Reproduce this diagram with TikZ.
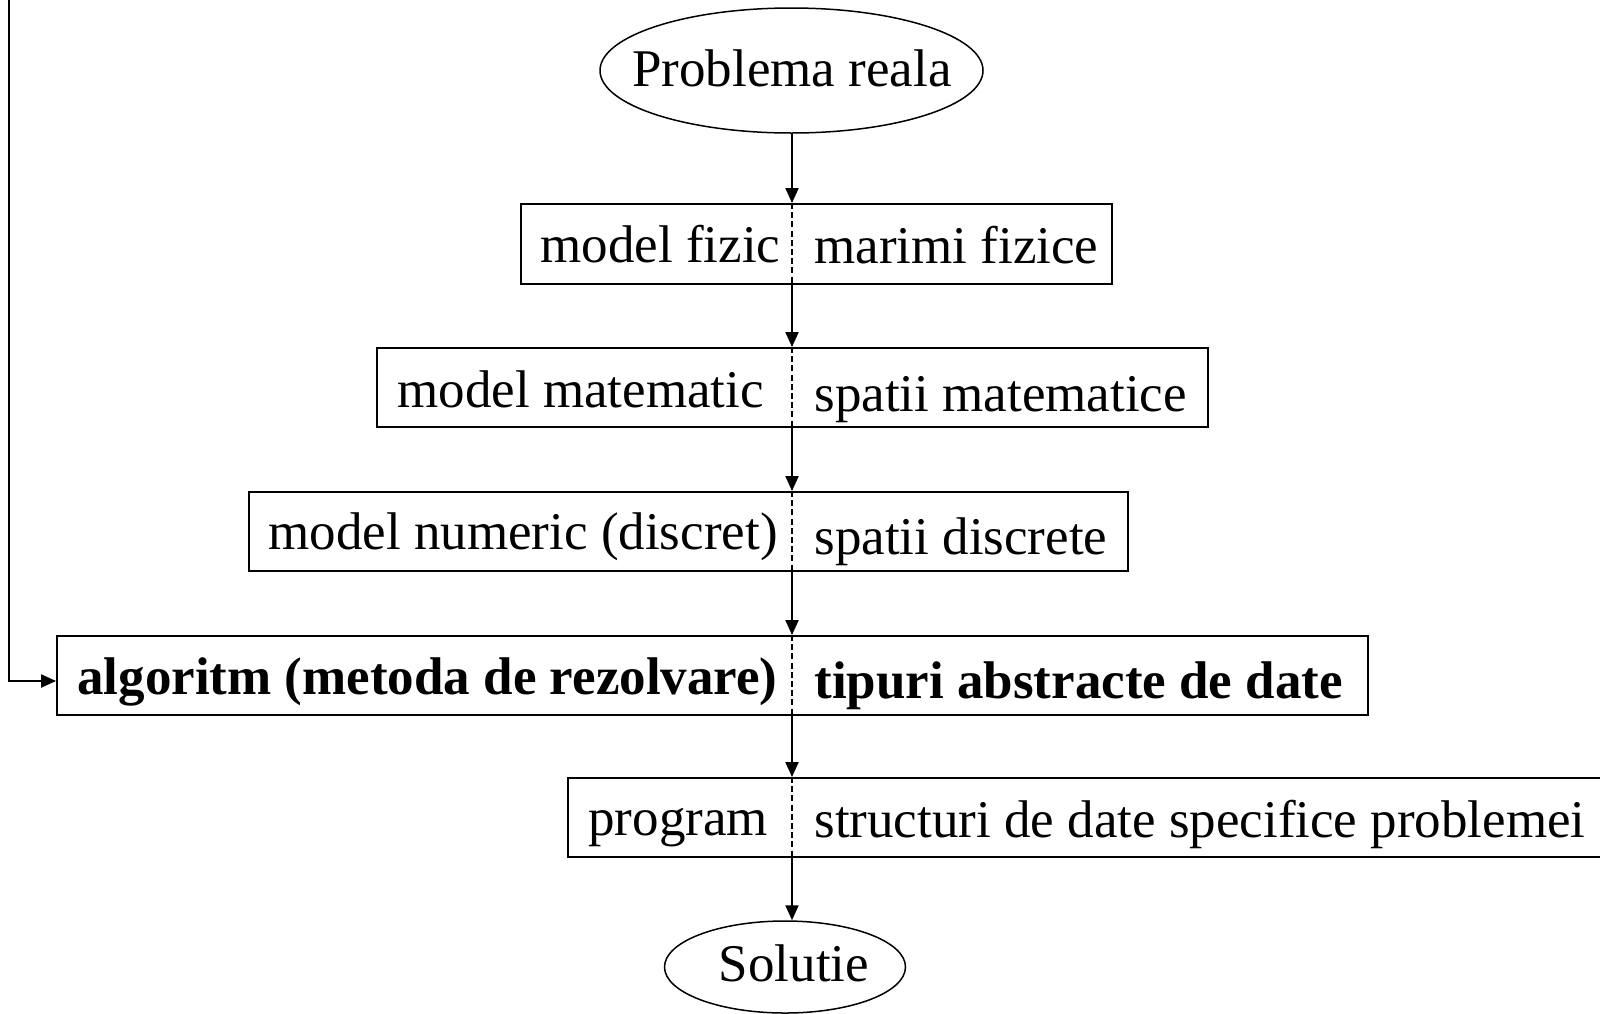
\documentclass[tikz,border=0pt]{standalone}
\usepackage{fontspec}
\setmainfont{Liberation Serif}
\usetikzlibrary{arrows.meta,fit,shapes.geometric}

\begin{document}
\begin{tikzpicture}[x=0.5pt, y=-0.5pt,
		every node/.style={font=\fontsize{26.5}{32}\selectfont},
		txt/.style={anchor=base west, inner sep=0pt},
		rowbox/.style={draw, line width=0.95pt, inner sep=0pt},
		term/.style={draw, ellipse, line width=0.75pt, inner sep=0pt},
		flow/.style={line width=1pt, -{Triangle[length=7.5pt,width=6.5pt]}},
		split/.style={line width=0.8pt, dash pattern=on 3pt off 1.6pt}]
		\useasboundingbox (0,0) rectangle (1600,1013);
		\coordinate (mid) at (792,0);
		
		% Start and end
		\node[term, minimum width=191.5pt, minimum height=62.5pt] (real) at (791.5,70.5) {};
		\node[txt, anchor=base] (realtxt) at (792,86) {Problema reala};
		\node[term, minimum width=120.5pt, minimum height=46pt] (sol) at (785,967) {};
		\node[txt, anchor=base] (soltxt) at (794,981) {Solutie};
		
		% Levels: model | data
		\node[rowbox, fit={(521,204) (1112,284)}] (fiz) {};
		\node[txt] (fizL) at (540,262) {model fizic};
		\node[txt] (fizR) at (814,263) {marimi fizice};
		
		\node[rowbox, fit={(377,348) (1208,427)}] (mat) {};
		\node[txt] (matL) at (397,407) {model matematic};
		\node[txt] (matR) at (814,411) {spatii matematice};
		
		\node[rowbox, fit={(249,492) (1128,571)}] (num) {};
		\node[txt] (numL) at (268,549) {model numeric (discret)};
		\node[txt] (numR) at (814,554) {spatii discrete};
		
		\node[rowbox, fit={(57,636) (1368,715)}] (alg) {};
		\node[txt] (algL) at (77,694) {\bfseries algoritm (metoda de rezolvare)};
		\node[txt] (algR) at (814,698) {\bfseries tipuri abstracte de date};
		
		\node[rowbox, fit={(568,778) (1601,857)}] (prog) {};
		\node[txt] (progL) at (588,835) {program};
		\node[txt] (progR) at (814,837) {structuri de date specifice problemei};
		
		% Dashed separators
		\foreach \r in {fiz,mat,num,alg,prog}
			\draw[split] (\r.north -| mid) -- (\r.south -| mid);
		
		% Main flow
		\draw[flow] (real.south -| mid) -- (fiz.north -| mid);
		\draw[flow] (fiz.south -| mid) -- (mat.north -| mid);
		\draw[flow] (mat.south -| mid) -- (num.north -| mid);
		\draw[flow] (num.south -| mid) -- (alg.north -| mid);
		\draw[flow] (alg.south -| mid) -- (prog.north -| mid);
		\draw[flow] (prog.south -| mid) -- (sol.north -| mid);
		
		% Feedback into the algorithm
		\coordinate (back) at (9,0);
		\draw[flow, line width=1.1pt] (back) |- ([yshift=-2.75pt]alg.west);
	\end{tikzpicture}
\end{document}
